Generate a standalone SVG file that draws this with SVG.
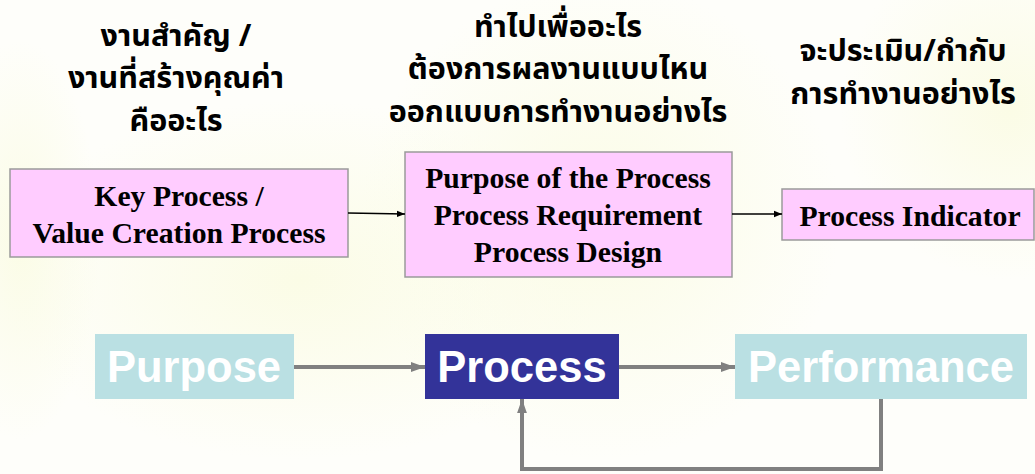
<svg xmlns="http://www.w3.org/2000/svg" width="1035" height="474" viewBox="0 0 1035 474">
  <defs>
    <radialGradient id="glowA" cx="0.5" cy="0.5" r="0.5">
      <stop offset="0" stop-color="#FBFCE6"/>
      <stop offset="1" stop-color="#FBFCE6" stop-opacity="0"/>
    </radialGradient>
    <marker id="arrSmall" viewBox="0 0 10 10" refX="10" refY="5" markerWidth="8" markerHeight="8" markerUnits="userSpaceOnUse" orient="auto">
      <path d="M0,1 L10,5 L0,9 Z" fill="#000"/>
    </marker>
    <marker id="arrGray" viewBox="0 0 10 10" refX="10" refY="5" markerWidth="14" markerHeight="14" markerUnits="userSpaceOnUse" orient="auto">
      <path d="M0,1.5 L10,5 L0,8.5 Z" fill="#808080"/>
    </marker>
  </defs>
  <style>
    .thai { font-family: "Noto Sans Thai", "Tahoma", "Noto Sans", "DejaVu Sans", sans-serif; font-weight: bold; font-size: 30.5px; fill: #000; text-anchor: middle; }
    .pink { fill: #FFCCFF; stroke: #9A9A9A; stroke-width: 1.5; }
    .serif { font-family: "Liberation Serif", "Times New Roman", serif; font-weight: bold; font-size: 29.7px; fill: #000; text-anchor: middle; }
    .pp { font-family: "Liberation Sans", Arial, sans-serif; font-weight: bold; font-size: 43.5px; fill: #FFFFFF; text-anchor: middle; }
    .light { fill: #BAE0E3; }
    .dark { fill: #333399; }
    .thin { stroke: #000; stroke-width: 1.3; fill: none; }
    .thick { stroke: #808080; stroke-width: 4; fill: none; }
  </style>

  <!-- backdrop -->
  <rect width="1035" height="474" fill="#FEFEFA"/>
  <ellipse cx="300" cy="280" rx="300" ry="180" fill="url(#glowA)"/>
  <ellipse cx="600" cy="220" rx="240" ry="240" fill="url(#glowA)"/>
  <ellipse cx="1010" cy="110" rx="170" ry="170" fill="url(#glowA)"/>
  <ellipse cx="20" cy="240" rx="80" ry="200" fill="url(#glowA)"/>

  <!-- question headings -->
  <g id="q-key">
    <text class="thai" x="176" y="46">งานสำคัญ /</text>
    <text class="thai" x="176" y="88">งานที่สร้างคุณค่า</text>
    <text class="thai" x="176" y="131">คืออะไร</text>
  </g>
  <g id="q-purpose">
    <text class="thai" x="558" y="37">ทำไปเพื่ออะไร</text>
    <text class="thai" x="558" y="79">ต้องการผลงานแบบไหน</text>
    <text class="thai" x="558" y="122">ออกแบบการทำงานอย่างไร</text>
  </g>
  <g id="q-indicator">
    <text class="thai" x="903" y="61">จะประเมิน/กำกับ</text>
    <text class="thai" x="903" y="104">การทำงานอย่างไร</text>
  </g>

  <!-- upper process chain -->
  <g id="key-process">
    <rect class="pink" x="10" y="169" width="338" height="88"/>
    <text class="serif" x="179" y="206">Key Process /</text>
    <text class="serif" x="179" y="243">Value Creation Process</text>
  </g>
  <g id="process-purpose">
    <rect class="pink" x="405" y="152" width="327" height="125"/>
    <text class="serif" x="568" y="188">Purpose of the Process</text>
    <text class="serif" x="568" y="225">Process Requirement</text>
    <text class="serif" x="568" y="262">Process Design</text>
  </g>
  <g id="process-indicator">
    <rect class="pink" x="782" y="189" width="252" height="51"/>
    <text class="serif" x="910" y="226">Process Indicator</text>
  </g>

  <!-- lower cycle -->
  <g id="purpose">
    <rect class="light" x="95" y="334" width="199" height="65"/>
    <text class="pp" x="194" y="382">Purpose</text>
  </g>
  <g id="process">
    <rect class="dark" x="425" y="334" width="194" height="65"/>
    <text class="pp" x="522" y="382">Process</text>
  </g>
  <g id="performance">
    <rect class="light" x="735" y="334" width="292" height="65"/>
    <text class="pp" x="881" y="382">Performance</text>
  </g>

  <g id="connectors">
    <line class="thin" x1="348" y1="213" x2="405" y2="214" marker-end="url(#arrSmall)"/>
    <line class="thin" x1="732" y1="214" x2="782" y2="214" marker-end="url(#arrSmall)"/>
    <line class="thick" x1="294" y1="367" x2="425" y2="367" marker-end="url(#arrGray)"/>
    <line class="thick" x1="619" y1="367" x2="735" y2="367" marker-end="url(#arrGray)"/>
    <polyline class="thick" points="881,399 881,469 522,469 522,399" marker-end="url(#arrGray)"/>
  </g>
</svg>
